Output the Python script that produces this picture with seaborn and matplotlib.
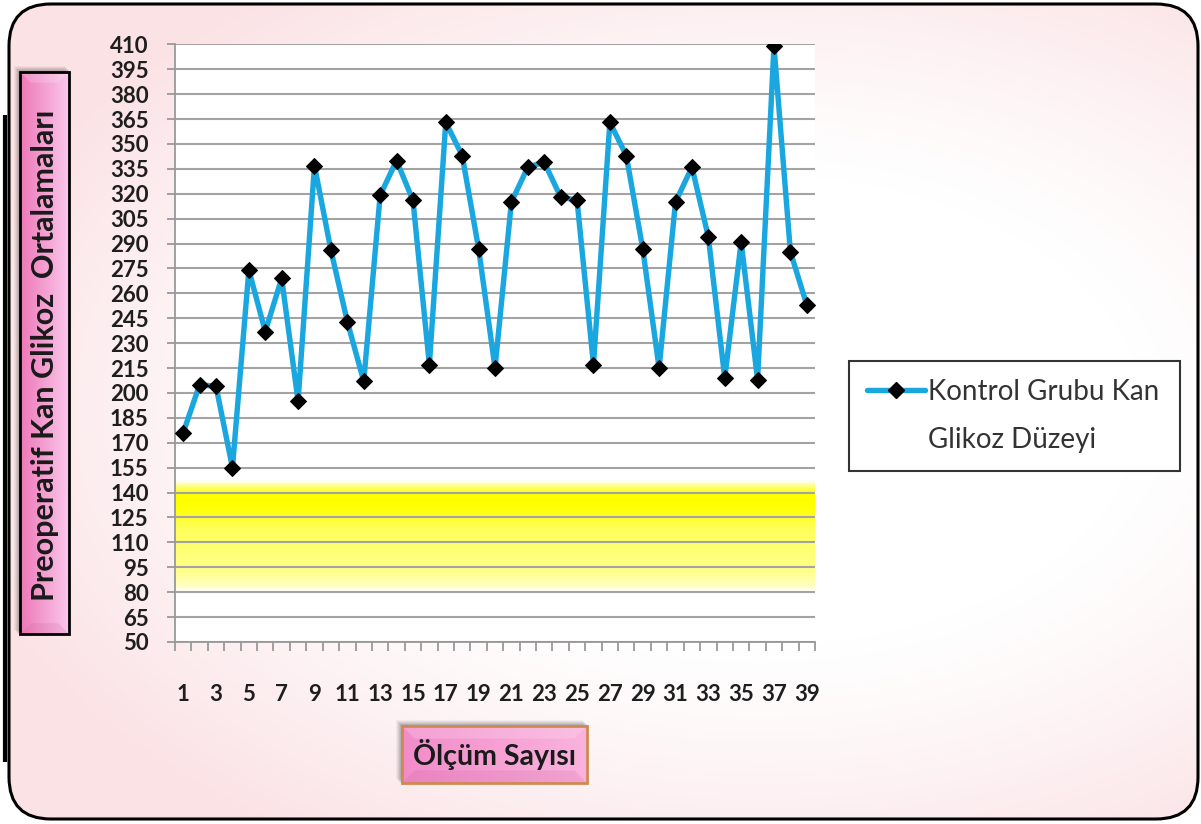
import numpy as np
import pandas as pd
import matplotlib
matplotlib.use("Agg")
import matplotlib.pyplot as plt
import seaborn as sns
from matplotlib.patches import FancyBboxPatch, Rectangle, Polygon
from matplotlib.lines import Line2D

# ---- data -------------------------------------------------------------
olcum = list(range(1, 40))
glikoz = [176, 205, 204, 155, 274, 237, 269, 195, 337, 286,
          243, 207, 319, 340, 316, 217, 363, 343, 287, 215,
          315, 336, 339, 318, 316, 217, 363, 343, 287, 215,
          315, 336, 294, 209, 291, 208, 409, 285, 253]
y_ticks = list(range(50, 411, 15))
x_tick_pos = list(range(1, 40, 2))
x_tick_labels = [str(i) for i in x_tick_pos]
hedef_alt, hedef_ust = 80, 147          # highlighted target range
seri_adi = ["Kontrol Grubu Kan", "Glikoz Düzeyi"]
y_baslik = "Preoperatif Kan Glikoz  Ortalamaları"
x_baslik = "Ölçüm Sayısı"

df = pd.DataFrame({"olcum": olcum, "glikoz": glikoz})

# ---- style ------------------------------------------------------------
sns.set_theme(style="white")
plt.rcParams["font.family"] = ["Lato", "DejaVu Sans"]

W, H = 1201, 824
fig = plt.figure(figsize=(W / 100, H / 100), dpi=100)
fig.patch.set_facecolor("white")

# background canvas in pixel coordinates
bg = fig.add_axes([0, 0, 1, 1])
bg.set_xlim(0, W)
bg.set_ylim(H, 0)
bg.axis("off")

# soft pink frame gradient, white towards the middle
yy, xx = np.mgrid[0:H, 0:W]
t = np.sqrt(((xx - 760) / 760.0) ** 2 + ((yy - 410) / 470.0) ** 2)
t = np.clip((t - 0.5) / 0.6, 0, 1) ** 1.2
pink = np.array([251, 226, 229]) / 255.0
grad = np.ones((H, W, 3)) * (1 - t[..., None]) + pink * t[..., None]
frame = FancyBboxPatch((9, 4), 1189, 815,
                       boxstyle="round,pad=0,rounding_size=42",
                       facecolor="none", edgecolor="black", lw=2.2, zorder=3)
bg.add_patch(frame)
im = bg.imshow(grad, extent=(0, W, H, 0), zorder=1, interpolation="bilinear")
im.set_clip_path(frame)
bg.plot([5, 5], [115, 762], color="black", lw=3, solid_capstyle="butt", zorder=3)


def shaded_box(x0, y0, w, h, c_dark, c_light, edge):
    # drop shadow
    for k, a in zip(range(6, 0, -1), [0.04, 0.05, 0.06, 0.07, 0.08, 0.09]):
        bg.add_patch(Rectangle((x0 - k, y0 - k), w + 2, h + 2,
                               facecolor="black", alpha=a, lw=0, zorder=4))
    n = 64
    s = np.linspace(0, 1, n)
    cd, cl = np.array(c_dark), np.array(c_light)
    col = cd[None, :] * (1 - s[:, None]) + cl[None, :] * s[:, None]
    bg.imshow(col[None, :, :], extent=(x0, x0 + w, y0 + h, y0), aspect="auto",
              zorder=5, interpolation="bilinear")
    # bevel shading
    b = min(w, h) * 0.22
    bg.add_patch(Polygon([(x0, y0), (x0 + w, y0), (x0 + w - b, y0 + b), (x0 + b, y0 + b)],
                         closed=True, facecolor="white", alpha=0.18, lw=0, zorder=6))
    bg.add_patch(Polygon([(x0, y0 + h), (x0 + w, y0 + h), (x0 + w - b, y0 + h - b), (x0 + b, y0 + h - b)],
                         closed=True, facecolor="#c0508a", alpha=0.15, lw=0, zorder=6))
    bg.add_patch(Rectangle((x0, y0), w, h, facecolor="none", edgecolor=edge,
                           lw=2, zorder=7))


# y title box
shaded_box(20, 72, 49, 562, (0.93, 0.47, 0.72), (0.98, 0.78, 0.92), "black")
bg.text(45, 355, y_baslik, rotation=90, ha="center", va="center",
        fontsize=22, fontweight="bold", color="#1a1a1a", zorder=8)

# x title box
shaded_box(402, 726, 185, 57, (0.95, 0.55, 0.79), (0.98, 0.70, 0.87), "#cf8a52")
bg.text(494.5, 755, x_baslik, ha="center", va="center",
        fontsize=20.5, fontweight="bold", color="#1a1a1a", zorder=8)

# ---- chart ------------------------------------------------------------
ax = fig.add_axes([175 / W, 1 - 642 / H, 640 / W, (642 - 44.3) / H])
ax.set_facecolor("white")
ax.set_axisbelow(True)

# target range band
vals = np.linspace(hedef_alt, hedef_ust, 200)
alpha = np.interp(vals,
                  [hedef_alt, 84, 92, 105, 118, 126, 131, 139, 143, hedef_ust],
                  [0.0, 0.25, 0.45, 0.55, 0.65, 0.85, 1.0, 1.0, 0.55, 0.0])
band = np.zeros((200, 1, 4))
band[..., 0] = 1.0
band[..., 1] = 1.0
band[..., 2] = 0.0
band[:, 0, 3] = alpha
ax.imshow(band, extent=(0.5, 39.5, hedef_alt, hedef_ust), origin="lower",
          aspect="auto", zorder=0.2, interpolation="bilinear")

line_color = "#1AA7E0"
sns.lineplot(data=df, x="olcum", y="glikoz", ax=ax, color=line_color,
             lw=3.9, marker="D", markersize=8, markerfacecolor="black",
             markeredgecolor="black", legend=False, zorder=3)

ax.set_xlim(0.5, 39.5)
ax.set_ylim(50, 410)
ax.set_yticks(y_ticks)
ax.set_yticklabels([str(v) for v in y_ticks], fontsize=16, fontweight="bold",
                   color="#1e1e1e")
ax.set_xticks(x_tick_pos)
ax.set_xticklabels(x_tick_labels, fontsize=16, fontweight="bold", color="#1e1e1e")
ax.set_xticks(np.arange(0.5, 40, 1), minor=True)
ax.yaxis.grid(True, color="#a3a3a3", lw=1.5)
ax.xaxis.grid(False)
ax.tick_params(axis="y", left=True, length=6, width=1.3, color="#999999",
               direction="out", pad=13)
ax.tick_params(axis="x", which="major", bottom=True, length=0, pad=30)
ax.tick_params(axis="x", which="minor", bottom=True, length=6.5, width=1.3,
               color="#999999", direction="out")
ax.set_xlabel("")
ax.set_ylabel("")
for side in ("top", "right"):
    ax.spines[side].set_visible(False)
for side in ("left", "bottom"):
    ax.spines[side].set_color("#999999")
    ax.spines[side].set_linewidth(1.3)

# ---- legend -----------------------------------------------------------
h_line = Line2D([], [], color=line_color, lw=3.9, marker="D", markersize=8,
                markerfacecolor="black", markeredgecolor="black")
h_blank = Line2D([], [], linestyle="none")
leg = ax.legend([h_line, h_blank], seri_adi, loc="upper left",
                bbox_to_anchor=(849 / W, 1 - 468 / H, 331 / W, 107 / H),
                bbox_transform=fig.transFigure, mode="expand", borderaxespad=0,
                fontsize=20, frameon=True, fancybox=False, framealpha=1,
                edgecolor="#333333", facecolor="white", handlelength=2.1,
                handletextpad=0.12, borderpad=0.64, labelspacing=0.8,
                labelcolor="#333333")
leg.get_frame().set_linewidth(1.5)

fig.savefig("out.png", dpi=100)
